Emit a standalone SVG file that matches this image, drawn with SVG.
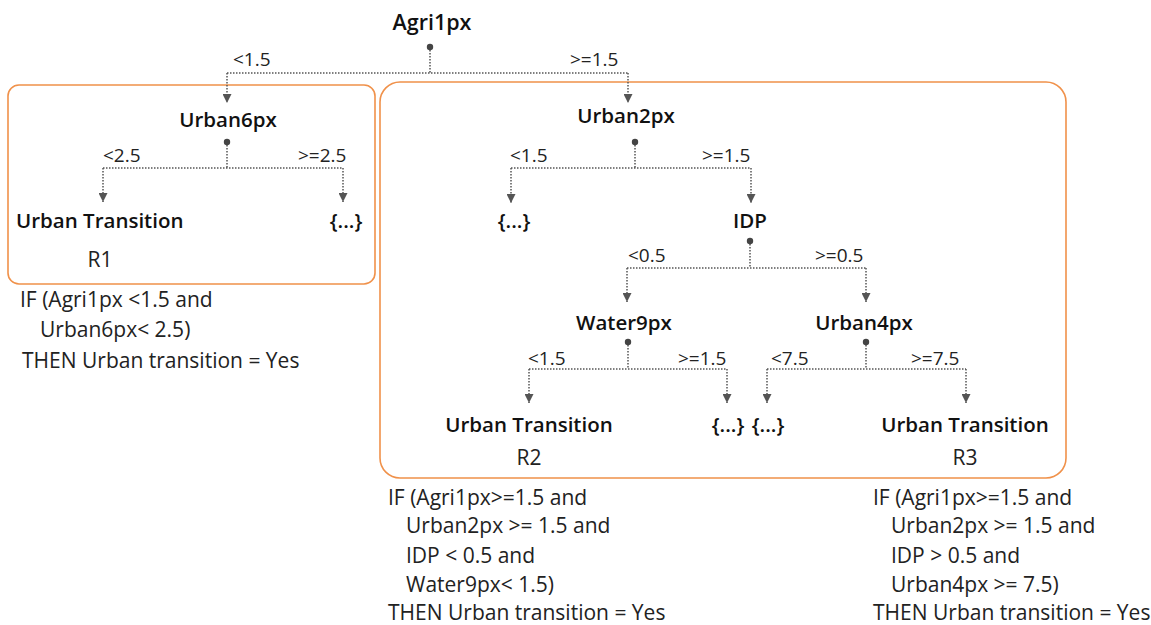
<svg xmlns="http://www.w3.org/2000/svg" width="1151" height="625" viewBox="0 0 1151 625">
<style>
.n{font-family:"Open Sans","Noto Sans",sans-serif;font-size:20.5px;font-weight:600;fill:#111;}
.t{font-family:"Open Sans","Noto Sans",sans-serif;font-size:19px;fill:#222;}
.r{font-family:"Open Sans","Noto Sans",sans-serif;font-size:21px;fill:#222;}
.c{fill:none;stroke:#555;stroke-width:1.5;stroke-dasharray:1.5 1.5;}
.box{fill:none;stroke:#F0914A;stroke-width:1.6;}
.dot{fill:#444;}
</style>
<defs>
<marker id="ah" viewBox="0 0 10 10" refX="10" refY="5" markerWidth="9" markerHeight="9" markerUnits="userSpaceOnUse" orient="auto">
<path d="M0,0 L10,5 L0,10 Z" fill="#555"/>
</marker>
</defs>
<rect width="1151" height="625" fill="#fff"/>
<g id="regions">
<rect class="box" x="8" y="85" width="367" height="199" rx="11"/>
<rect class="box" x="380" y="82" width="686" height="396" rx="20"/>
</g>
<g id="connectors">
<path class="c" d="M430,47 V73 M227,73 H628 M227,73 V103" marker-end="url(#ah)"/>
<path class="c" d="M628,73 V103" marker-end="url(#ah)"/>
<path class="c" d="M227,142 V168 M103,168 H343 M103,168 V202" marker-end="url(#ah)"/>
<path class="c" d="M343,168 V202" marker-end="url(#ah)"/>
<path class="c" d="M635,142 V168 M511,168 H751 M511,168 V203" marker-end="url(#ah)"/>
<path class="c" d="M751,168 V203" marker-end="url(#ah)"/>
<path class="c" d="M750,241 V268 M627,268 H866 M627,268 V302" marker-end="url(#ah)"/>
<path class="c" d="M866,268 V302" marker-end="url(#ah)"/>
<path class="c" d="M628,342 V369 M529,369 H727 M529,369 V403" marker-end="url(#ah)"/>
<path class="c" d="M727,369 V403" marker-end="url(#ah)"/>
<path class="c" d="M866,342 V369 M767,369 H966 M767,369 V403" marker-end="url(#ah)"/>
<path class="c" d="M966,369 V403" marker-end="url(#ah)"/>
<circle class="dot" cx="430" cy="47" r="3.2"/>
<circle class="dot" cx="227" cy="142" r="3.2"/>
<circle class="dot" cx="635" cy="142" r="3.2"/>
<circle class="dot" cx="750" cy="241" r="3.2"/>
<circle class="dot" cx="628" cy="342" r="3.2"/>
<circle class="dot" cx="866" cy="342" r="3.2"/>
<text class="t" x="233" y="66">&lt;1.5</text>
<text class="t" x="570" y="66">&gt;=1.5</text>
<text class="t" x="103" y="162">&lt;2.5</text>
<text class="t" x="298" y="162">&gt;=2.5</text>
<text class="t" x="510" y="162">&lt;1.5</text>
<text class="t" x="702" y="162">&gt;=1.5</text>
<text class="t" x="628" y="262">&lt;0.5</text>
<text class="t" x="815" y="262">&gt;=0.5</text>
<text class="t" x="528" y="365">&lt;1.5</text>
<text class="t" x="678" y="365">&gt;=1.5</text>
<text class="t" x="771" y="365">&lt;7.5</text>
<text class="t" x="911" y="365">&gt;=7.5</text>
</g>
<g id="agri1px"><text class="n" x="432" y="30" text-anchor="middle" style="font-size:21.5px">Agri1px</text></g>
<g id="urban6px"><text class="n" x="228" y="127" text-anchor="middle">Urban6px</text></g>
<g id="leaf-r1"><text class="n" x="16" y="228">Urban Transition</text><text class="r" x="100" y="267" text-anchor="middle">R1</text></g>
<g id="leaf-u6-right"><text class="n" x="346" y="228" text-anchor="middle">{...}</text></g>
<g id="urban2px"><text class="n" x="626" y="123" text-anchor="middle">Urban2px</text></g>
<g id="leaf-u2-left"><text class="n" x="514" y="228" text-anchor="middle">{...}</text></g>
<g id="idp"><text class="n" x="750" y="228" text-anchor="middle">IDP</text></g>
<g id="water9px"><text class="n" x="624" y="330" text-anchor="middle">Water9px</text></g>
<g id="urban4px"><text class="n" x="864" y="330" text-anchor="middle">Urban4px</text></g>
<g id="leaf-r2"><text class="n" x="529" y="432" text-anchor="middle">Urban Transition</text><text class="r" x="529" y="465" text-anchor="middle">R2</text></g>
<g id="leaf-w9-right"><text class="n" x="728" y="432" text-anchor="middle">{...}</text></g>
<g id="leaf-u4-left"><text class="n" x="768" y="432" text-anchor="middle">{...}</text></g>
<g id="leaf-r3"><text class="n" x="965" y="432" text-anchor="middle">Urban Transition</text><text class="r" x="965" y="465" text-anchor="middle">R3</text></g>
<g id="rule-r1">
<text class="r" x="20" y="307">IF (Agri1px &lt;1.5 and</text>
<text class="r" x="40" y="337">Urban6px&lt; 2.5)</text>
<text class="r" x="22" y="368">THEN Urban transition = Yes</text>
</g>
<g id="rule-r2">
<text class="r" x="388" y="505">IF (Agri1px&gt;=1.5 and</text>
<text class="r" x="406" y="533">Urban2px &gt;= 1.5 and</text>
<text class="r" x="406" y="563">IDP &lt; 0.5 and</text>
<text class="r" x="406" y="592">Water9px&lt; 1.5)</text>
<text class="r" x="388" y="620">THEN Urban transition = Yes</text>
</g>
<g id="rule-r3">
<text class="r" x="873" y="505">IF (Agri1px&gt;=1.5 and</text>
<text class="r" x="891" y="533">Urban2px &gt;= 1.5 and</text>
<text class="r" x="891" y="563">IDP &gt; 0.5 and</text>
<text class="r" x="891" y="592">Urban4px &gt;= 7.5)</text>
<text class="r" x="873" y="620">THEN Urban transition = Yes</text>
</g>
</svg>
